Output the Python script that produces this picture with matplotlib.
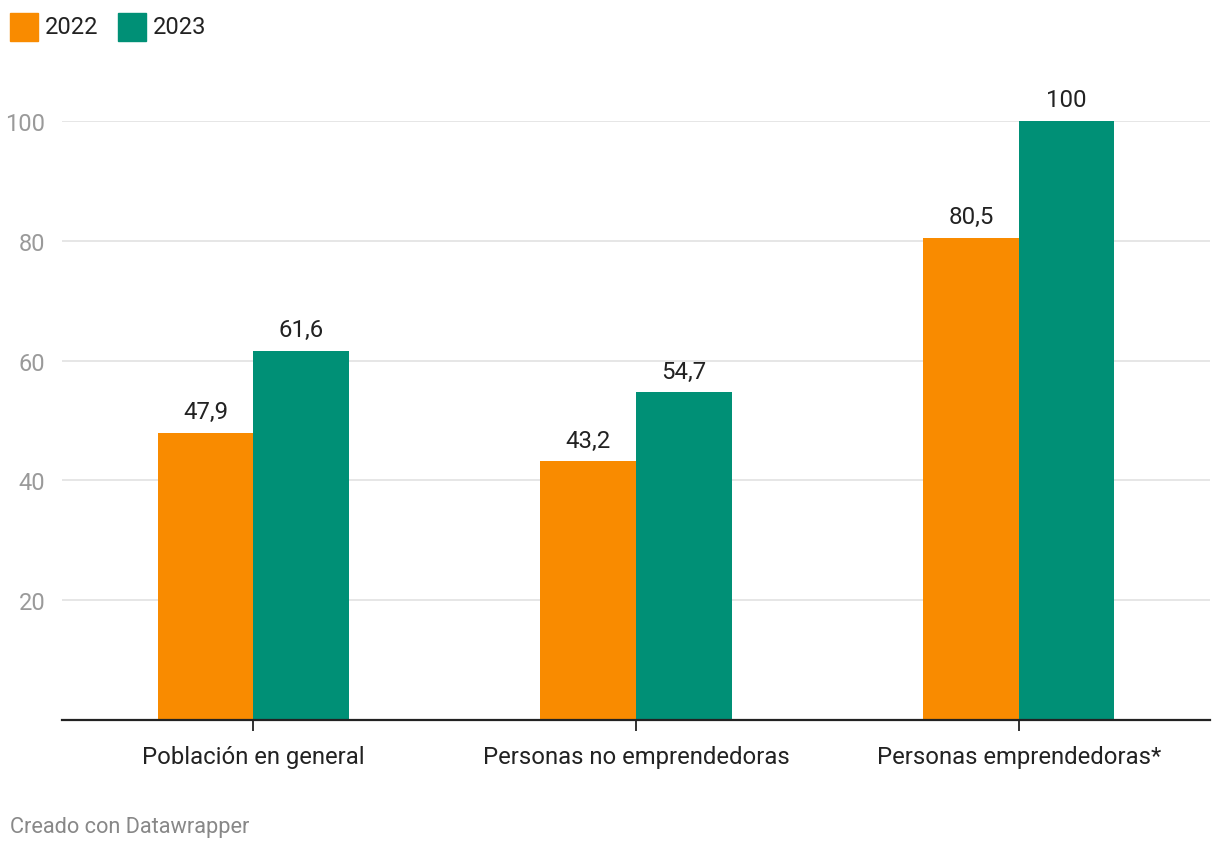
import matplotlib
matplotlib.use("Agg")
import matplotlib.pyplot as plt
import numpy as np

categories = ["Población en general", "Personas no emprendedoras", "Personas emprendedoras*"]
series_names = ["2022", "2023"]
values_2022 = [47.9, 43.2, 80.5]
values_2023 = [61.6, 54.7, 100]
yticks = [20, 40, 60, 80, 100]
colors = ["#f98b00", "#009076"]

plt.rcParams['font.family'] = ['Roboto', 'DejaVu Sans']

W, H = 1220, 854
fig = plt.figure(figsize=(W/100, H/100), dpi=100)
ax = fig.add_axes([62/W, (H-721)/H, 1148/W, (721-122)/H])

x = np.arange(len(categories))
bw = 0.25
for i, (vals, col) in enumerate(zip([values_2022, values_2023], colors)):
    offs = (i - 0.5) * bw
    ax.bar(x + offs, vals, width=bw, color=col, zorder=3, clip_on=False)
    for xi, v in zip(x + offs, vals):
        lab = f"{v:g}".replace(".", ",")
        ax.annotate(lab, (xi, v), xytext=(0, 7), textcoords="offset points",
                    ha="center", va="bottom", fontsize=17.3, color="#222222",
                    annotation_clip=False)

ax.set_xlim(-0.5, 2.5)
ax.set_ylim(0, 100)
ax.set_yticks(yticks)
ax.set_yticklabels([str(t) for t in yticks], fontsize=17, color="#9a9a9a")
ax.yaxis.grid(True, color="#e2e2e2", linewidth=1.2, zorder=0)
ax.tick_params(axis="y", length=0, pad=12)
ax.set_xticks(x)
ax.set_xticklabels(categories, fontsize=17.2, color="#222222")
ax.tick_params(axis="x", length=8, width=1.3, color="#222222", pad=10)
for s in ["top", "right", "left"]:
    ax.spines[s].set_visible(False)
ax.spines["bottom"].set_color("#222222")
ax.spines["bottom"].set_linewidth(1.6)
ax.spines["bottom"].set_zorder(4)

# legend
for i, (name, col) in enumerate(zip(series_names, colors)):
    x0 = [10, 118][i]
    fig.patches.append(matplotlib.patches.Rectangle((x0/W, 1-42/H), 28/W, 28/H,
                        transform=fig.transFigure, color=col))
    fig.text((x0+35)/W, 1-28/H, name, fontsize=17, color="#222222", va="center", ha="left")

fig.text(10/W, 1-828/H, "Creado con Datawrapper", fontsize=15.7, color="#888888",
         va="center", ha="left")

fig.savefig("out.png", dpi=100, facecolor="white")
